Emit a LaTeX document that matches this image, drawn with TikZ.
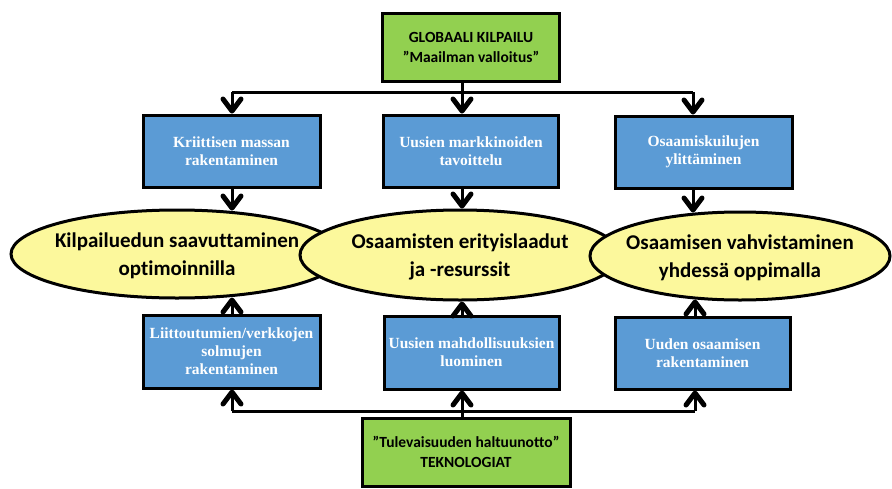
\documentclass[tikz,border=0pt]{standalone}
\usepackage{fontspec}
\setmainfont{Carlito}[Ligatures=NoCommon]
\newfontfamily\boxfont{Liberation Serif}
\usetikzlibrary{arrows.meta,shapes.geometric,calc}

\definecolor{boxblue}{HTML}{5B9BD5}
\definecolor{boxgreen}{HTML}{92D050}
\definecolor{goalyellow}{HTML}{FCF89C}

\begin{document}
\begin{tikzpicture}[x=1pt,y=-1pt,line width=3pt,
    greenbox/.style={draw=black,fill=boxgreen,minimum height=68pt,align=center,
        font=\fontsize{15.5}{20}\selectfont\bfseries},
    bluebox/.style={draw=black,fill=boxblue,text=white,minimum width=177pt,minimum height=72pt,
        align=center,font=\boxfont\fontsize{15.5}{18}\selectfont\bfseries},
    goal/.style={ellipse,draw=black,fill=goalyellow,inner sep=0pt,minimum height=88pt},
    goaltext/.style={align=center,inner sep=0pt,yshift=-2pt,font=\fontsize{21}{28}\selectfont\bfseries},
    arr/.style={-{Straight Barb[round,length=12pt,width=18pt,line width=5pt]}}]
             \useasboundingbox (0,0) rectangle (892,488);

             % the two sources
             \node[greenbox,minimum width=177pt] (glob) at (471,47) {GLOBAALI KILPAILU\\”Maailman valloitus”};
             \node[greenbox,minimum width=208pt] (tek) at (466,452) {”Tulevaisuuden haltuunotto”\\TEKNOLOGIAT};

             % upper row
             \node[bluebox] (kriit) at (231.5,151) {Kriittisen massan\\rakentaminen};
             \node[bluebox,minimum width=175pt] (markk) at (471,151) {Uusien markkinoiden\\tavoittelu};
             \node[bluebox] (kuilu) at (703.5,152) {Osaamiskuilujen\\ylittäminen};

             % the three goals
             \node[goal,minimum width=332pt,label={[goaltext]center:Kilpailuedun saavuttaminen\\optimoinnilla}] (kilp) at (177,254) {};
             \node[goal,minimum width=320pt,minimum height=90pt,label={[goaltext]center:Osaamisten erityislaadut\\ja -resurssit}] (erit) at (460,255) {};
             \node[goal,minimum width=300pt,label={[goaltext]center:Osaamisen vahvistaminen\\yhdessä oppimalla}] (vahv) at (740,256) {};

             % lower row
             \node[bluebox,minimum height=73pt] (liitt) at (231.5,351.5) {Liittoutumien/verkkojen\\solmujen\\rakentaminen};
             \node[bluebox,minimum width=175pt,minimum height=73pt] (mahd) at (471.5,352.5) {Uusien mahdollisuuksien\\luominen};
             \node[bluebox,minimum width=175pt] (uusi) at (702.5,353) {Uuden osaamisen\\rakentaminen};

             % top spine
             \coordinate (tl) at (232,92);
             \coordinate (tm) at (462,92);
             \coordinate (tr) at (693,92);
             \draw (glob.south -| tm) -- (tm);
             \draw (tl) -- (tr);
             \draw[arr] (tl) -- (tl |- kriit.north);
             \draw[arr] (tm) -- (tm |- markk.north);
             \draw[arr] (tr) -- (tr |- kuilu.north);

             \draw[arr] (kriit.south -| tl) -- ($(tl |- kilp.north)+(0,2)$);
             \draw[arr] (markk.south -| tm) -- (tm |- erit.north);
             \draw[arr] (kuilu.south -| tr) -- ($(tr |- vahv.north)+(0,2)$);

             % bottom spine
             \coordinate (bl) at (232,411);
             \coordinate (bm) at (462,411);
             \coordinate (br) at (695,411);
             \draw (tek.north -| bm) -- (bm);
             \draw (bl) -- (br);
             \draw[arr] (bl) -- (bl |- liitt.south);
             \draw[arr] (bm) -- (bm |- mahd.south);
             \draw[arr] (br) -- (br |- uusi.south);

             \draw[arr] (liitt.north -| bl) -- ($(bl |- kilp.south)+(0,-2)$);
             \draw[arr] (mahd.north -| bm) -- (bm |- erit.south);
             \draw[arr] (uusi.north -| br) -- ($(br |- vahv.south)+(0,-2)$);
\end{tikzpicture}
\end{document}
